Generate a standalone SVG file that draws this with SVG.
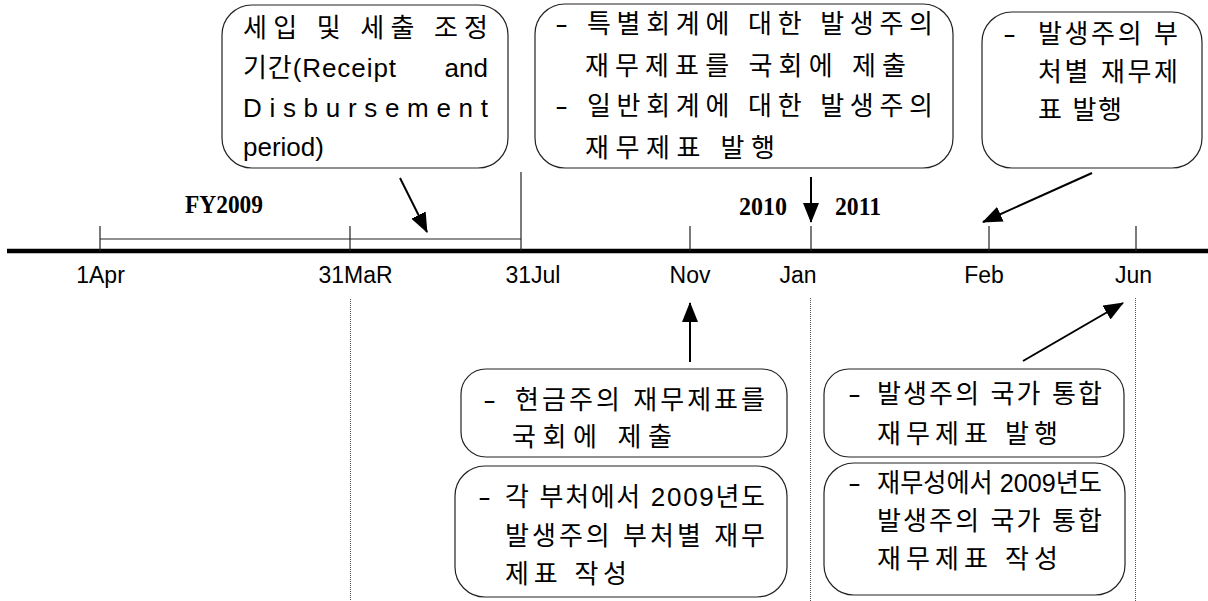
<svg xmlns="http://www.w3.org/2000/svg" width="1208" height="601" viewBox="0 0 1208 601">
<style>
.box{fill:#fff;stroke:#222;stroke-width:1.2}
.t{font-family:"Liberation Sans","Noto Sans CJK KR",sans-serif;font-size:26px;fill:#000}
.lbl{font-family:"Liberation Sans","Noto Sans CJK KR",sans-serif;font-size:23px;fill:#000;text-anchor:middle}
.yr{font-family:"Liberation Serif",serif;font-size:25px;font-weight:bold;fill:#000}
.tick{stroke:#222;stroke-width:1.2}
.dot{stroke:#555;stroke-width:1;stroke-dasharray:1 1}
.arr{stroke:#000;stroke-width:2;fill:none;marker-end:url(#ah)}
</style>
<defs>
<marker id="ah" markerUnits="userSpaceOnUse" viewBox="0 0 20 16" markerWidth="20" markerHeight="16" refX="19" refY="8" orient="auto">
<path d="M0,0 L20,8 L0,16 z" fill="#000"/>
</marker>
</defs>
<rect width="1208" height="601" fill="#fff"/>

<g id="timeline">
<line x1="7" y1="251" x2="1208" y2="251" stroke="#000" stroke-width="4.5"/>
<line class="tick" x1="100" y1="239" x2="521" y2="239"/>
<line class="tick" x1="100" y1="226" x2="100" y2="251"/>
<line class="tick" x1="350" y1="226" x2="350" y2="251"/>
<line class="tick" x1="521" y1="172" x2="521" y2="251"/>
<line class="tick" x1="690" y1="226" x2="690" y2="251"/>
<line class="tick" x1="811" y1="226" x2="811" y2="251"/>
<line class="tick" x1="989" y1="226" x2="989" y2="251"/>
<line class="tick" x1="1136" y1="226" x2="1136" y2="251"/>
<line class="dot" x1="350.5" y1="299" x2="350.5" y2="601"/>
<line class="dot" x1="810.5" y1="298" x2="810.5" y2="601"/>
<line class="dot" x1="1135.5" y1="298" x2="1135.5" y2="601"/>
<text class="lbl" x="100.5" y="283">1Apr</text>
<text class="lbl" x="355.5" y="283">31MaR</text>
<text class="lbl" x="533" y="283">31Jul</text>
<text class="lbl" x="690" y="283">Nov</text>
<text class="lbl" x="798" y="283">Jan</text>
<text class="lbl" x="984" y="283">Feb</text>
<text class="lbl" x="1133.5" y="283">Jun</text>
<text class="yr" x="185" y="213" textLength="78" lengthAdjust="spacingAndGlyphs">FY2009</text>
<text class="yr" x="739" y="215" textLength="48" lengthAdjust="spacingAndGlyphs">2010</text>
<text class="yr" x="835" y="215" textLength="46" lengthAdjust="spacingAndGlyphs">2011</text>
</g>

<g id="connectors">
<line class="arr" x1="400" y1="178" x2="427" y2="232"/>
<line class="arr" x1="811" y1="177" x2="811" y2="222"/>
<line class="arr" x1="1092" y1="173" x2="983" y2="222"/>
<line class="arr" x1="690" y1="362" x2="690" y2="303"/>
<line class="arr" x1="1023" y1="361" x2="1123" y2="303"/>
</g>

<g id="node-receipt">
<rect class="box" x="222" y="5" width="286" height="163" rx="30"/>
<text class="t" x="243" y="37" textLength="245" lengthAdjust="spacing">세입 및 세출 조정</text>
<text class="t" x="243" y="77" textLength="153" lengthAdjust="spacing">기간(Receipt</text>
<text class="t" x="488" y="77" text-anchor="end">and</text>
<text class="t" x="243" y="117" textLength="245" lengthAdjust="spacing">Disbursement</text>
<text class="t" x="243" y="156">period)</text>
</g>

<g id="node-special">
<rect class="box" x="535" y="4" width="418" height="164" rx="30"/>
<text class="t" x="555" y="33" textLength="13" lengthAdjust="spacingAndGlyphs">-</text>
<text class="t" x="587" y="33" textLength="346" lengthAdjust="spacing">특별회계에 대한 발생주의</text>
<text class="t" x="585" y="75" textLength="321" lengthAdjust="spacing">재무제표를 국회에 제출</text>
<text class="t" x="555" y="115" textLength="13" lengthAdjust="spacingAndGlyphs">-</text>
<text class="t" x="587" y="115" textLength="346" lengthAdjust="spacing">일반회계에 대한 발생주의</text>
<text class="t" x="585" y="157" textLength="190" lengthAdjust="spacing">재무제표 발행</text>
</g>

<g id="node-dept-issue">
<rect class="box" x="982" y="12" width="220" height="156" rx="30"/>
<text class="t" x="1003" y="43" textLength="13" lengthAdjust="spacingAndGlyphs">-</text>
<text class="t" x="1038" y="43" textLength="140" lengthAdjust="spacing">발생주의 부</text>
<text class="t" x="1038" y="81" textLength="140" lengthAdjust="spacing">처별 재무제</text>
<text class="t" x="1038" y="119" textLength="84" lengthAdjust="spacing">표 발행</text>
</g>

<g id="node-cash">
<rect class="box" x="461" y="369" width="326" height="88" rx="25"/>
<text class="t" x="483" y="409" textLength="13" lengthAdjust="spacingAndGlyphs">-</text>
<text class="t" x="515" y="409" textLength="250" lengthAdjust="spacing">현금주의 재무제표를</text>
<text class="t" x="512" y="446" textLength="160" lengthAdjust="spacing">국회에 제출</text>
</g>

<g id="node-dept-prepare">
<rect class="box" x="455" y="466" width="332" height="131" rx="30"/>
<text class="t" x="478" y="506" textLength="13" lengthAdjust="spacingAndGlyphs">-</text>
<text class="t" x="505" y="506" textLength="260" lengthAdjust="spacing">각 부처에서 2009년도</text>
<text class="t" x="505" y="545" textLength="260" lengthAdjust="spacing">발생주의 부처별 재무</text>
<text class="t" x="505" y="583" textLength="122" lengthAdjust="spacing">제표 작성</text>
</g>

<g id="node-national-issue">
<rect class="box" x="824" y="369" width="300" height="88" rx="25"/>
<text class="t" x="848" y="403" textLength="13" lengthAdjust="spacingAndGlyphs">-</text>
<text class="t" x="877" y="403" textLength="225" lengthAdjust="spacing">발생주의 국가 통합</text>
<text class="t" x="877" y="443" textLength="181" lengthAdjust="spacing">재무제표 발행</text>
</g>

<g id="node-national-prepare">
<rect class="box" x="824" y="463" width="301" height="132" rx="30"/>
<text class="t" x="848" y="492" textLength="13" lengthAdjust="spacingAndGlyphs">-</text>
<text class="t" x="877" y="492" textLength="225" lengthAdjust="spacingAndGlyphs">재무성에서 2009년도</text>
<text class="t" x="877" y="530" textLength="225" lengthAdjust="spacing">발생주의 국가 통합</text>
<text class="t" x="877" y="568" textLength="181" lengthAdjust="spacing">재무제표 작성</text>
</g>
</svg>
